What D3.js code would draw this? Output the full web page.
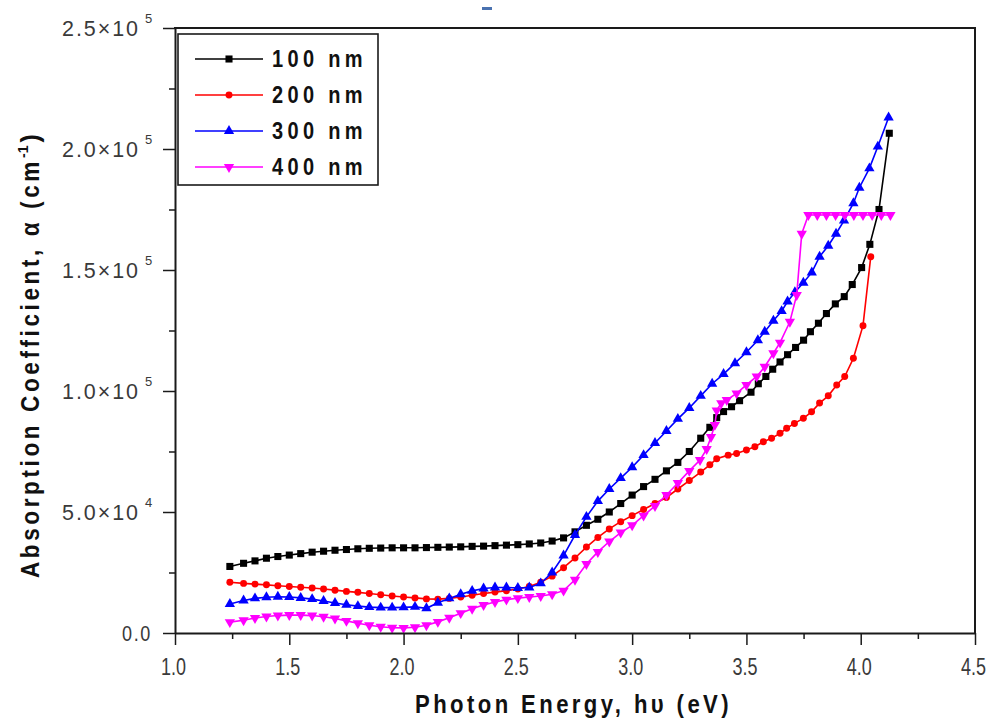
<!DOCTYPE html>
<html><head><meta charset="utf-8">
<script src="https://cdn.jsdelivr.net/npm/d3@7/dist/d3.min.js"></script>
<style>body{margin:0;background:#fff}svg{display:block}</style>
</head><body>
<svg id="chart" width="992" height="721"></svg>
<script>
// ---- data (alpha in units of 10^3 cm^-1, photon energy in eV) ----
const lowE = [1.24,1.30,1.35,1.40,1.45,1.50,1.55,1.60,1.65,1.70,1.75,1.80,1.85,1.90,1.95,2.00,2.05,2.10,2.15,2.20,2.25,2.30,2.35,2.40,2.45,2.50,2.55,2.60,2.65,2.70,2.75,2.80,2.85,2.90,2.95,3.00,3.05,3.10,3.15,3.20,3.25];

const e100 = [3.30,3.34,3.37,3.40,3.435,3.47,3.52,3.552,3.585,3.615,3.647,3.68,3.715,3.75,3.78,3.815,3.85,3.889,3.928,3.963,4.004,4.04,4.08,4.125];
const a100Low = [27.5,28.8,29.8,30.9,31.6,32.2,32.8,33.4,33.8,34.2,34.5,34.8,35.0,35.1,35.2,35.2,35.2,35.3,35.4,35.5,35.6,35.8,35.9,36.1,36.3,36.5,36.8,37.2,38.0,39.3,41.8,44.5,47.0,50.0,53.5,57.0,60.5,63.5,67.0,70.5,75.0];
const a100High = [80.5,85,89,91.5,93.5,96,99.5,103,106,109,112,115,118,121,124.5,128,132,136,139,144,151,160.6,175,206.5];

const e200 = [3.30,3.34,3.37,3.42,3.457,3.50,3.537,3.574,3.61,3.647,3.676,3.71,3.749,3.785,3.82,3.858,3.895,3.93,3.968,4.01,4.044];
const a200Low = [21.0,20.5,20.2,19.9,19.5,19.2,18.9,18.6,18.2,17.7,17.2,16.8,16.3,15.8,15.3,14.9,14.5,14.1,14.0,14.3,14.9,15.6,16.3,16.9,17.5,18.2,19.2,21.0,23.5,27.0,31.0,35.5,39.5,43.0,46.0,48.5,51.0,53.5,56.0,59.5,63.0];
const a200High = [66.5,69.5,72.0,73.5,74.2,75.6,77,79,80.5,82.5,84.6,86.6,88.7,91.4,95,98,102.5,106,113.5,127,155.5];

const e300 = [3.30,3.35,3.40,3.45,3.50,3.55,3.58,3.618,3.654,3.68,3.712,3.749,3.786,3.82,3.858,3.892,3.927,3.968,3.994,4.038,4.075,4.122];
const a300Low = [12.0,13.4,14.3,14.8,15.0,14.9,14.5,14.0,13.2,12.4,11.7,11.1,10.7,10.5,10.5,10.6,10.8,10.2,12.5,14.3,16.0,17.4,18.4,18.8,18.8,18.6,18.8,20.5,25.0,32.0,40.5,48.0,54.5,59.5,64.0,68.5,73.5,78.5,83.5,88.5,93.0];
const a300High = [98.0,103,107,111.5,116,121,124.5,129,133,137,140.8,144.7,149,155.5,160,165,170.4,177.6,184,192,201,213];

const e400 = [3.297,3.326,3.345,3.362,3.37,3.39,3.414,3.457,3.50,3.545,3.58,3.618,3.647,3.69,3.72,3.742,3.771,3.81,3.85,3.89,3.93,3.97,4.01,4.05,4.09,4.13];
const a400Low = [4.5,5.3,6.2,6.8,7.2,7.4,7.4,7.2,6.7,6.0,5.0,4.0,3.2,2.6,2.2,2.1,2.4,3.2,4.6,6.3,8.2,10.0,11.6,12.8,13.8,14.4,14.9,15.3,16.0,17.5,22.0,28.5,33.5,37.8,41.5,44.5,48.5,52.5,57.0,62.0,67.0];
const a400High = [71.5,76.0,81.0,86.0,92.0,95.0,96.3,99,102.5,106,110,115.6,120,128.6,139.7,165,172.7,172.7,172.7,172.7,172.7,172.7,172.7,172.7,172.7,172.7];

const seriesNames = ["100 nm","200 nm","300 nm","400 nm"];
const seriesColors = ["#000000","#ff0000","#0000ff","#ff00ff"];
const xMajorTicks = [1.0,1.5,2.0,2.5,3.0,3.5,4.0,4.5];
const xMinorTicks = [1.25,1.75,2.25,2.75,3.25,3.75,4.25];
const yMajorTicks = [0,50,100,150,200,250];
const yMinorTicks = [25,75,125,175,225];
const yTickMant = ["0.0","5.0","1.0","1.5","2.0","2.5"];
const yTickExp = ["","4","5","5","5","5"];

// ---- build ----
const svg = d3.select("#chart");
const x = d3.scaleLinear().domain([1,4.5]).range([175,975]);
const y = d3.scaleLinear().domain([0,250]).range([633,28]);
const FONT = "'Liberation Sans',Arial,sans-serif";
const AX = "#1a1a1a";

const series = [
  {e: lowE.concat(e100), a: a100Low.concat(a100High), sym: d3.symbolSquare, size: 50},
  {e: lowE.concat(e200), a: a200Low.concat(a200High), sym: d3.symbolCircle, size: 38},
  {e: lowE.concat(e300), a: a300Low.concat(a300High), sym: d3.symbolTriangle, size: 46},
  {e: lowE.concat(e400), a: a400Low.concat(a400High), sym: d3.symbolTriangle, size: 46, flip: true}
].map((s,i)=>({...s, name: seriesNames[i], color: seriesColors[i],
  pts: s.e.map((v,j)=>({e:v, a:s.a[j]}))}));

// small dash at the top of the original figure
svg.append("rect").attr("x",482).attr("y",7).attr("width",10).attr("height",3).attr("fill","#4a72b0");

// series lines + markers
const line = d3.line().x(d=>x(d.e)).y(d=>y(d.a));
const g = svg.append("g");
series.forEach(s=>{
  g.append("path").datum(s.pts).attr("d",line).attr("fill","none")
    .attr("stroke",s.color).attr("stroke-width",1.6);
  g.selectAll(null).data(s.pts).enter().append("path")
    .attr("d",d3.symbol().type(s.sym).size(s.size))
    .attr("transform",d=>`translate(${x(d.e)},${y(d.a)})${s.flip?" rotate(180)":""}`)
    .attr("fill",s.color);
});

// frame top/right
svg.append("line").attr("x1",174).attr("x2",976).attr("y1",28).attr("y2",28).attr("stroke",AX).attr("stroke-width",2.2);
svg.append("line").attr("x1",975).attr("x2",975).attr("y1",28).attr("y2",633).attr("stroke",AX).attr("stroke-width",2);

// x axis
const gx = svg.append("g").attr("transform","translate(0,633)");
gx.call(d3.axisBottom(x).tickValues(xMajorTicks).tickSize(12).tickSizeOuter(0).tickFormat(d3.format(".1f")));
const gxm = svg.append("g").attr("transform","translate(0,633)");
gxm.call(d3.axisBottom(x).tickValues(xMinorTicks).tickSize(6).tickSizeOuter(0).tickFormat(""));
gxm.select(".domain").remove();
gx.select(".domain").attr("stroke",AX).attr("stroke-width",2);
gx.selectAll(".tick line").attr("stroke",AX).attr("stroke-width",1.5);
gxm.selectAll(".tick line").attr("stroke",AX).attr("stroke-width",1.5);
gx.selectAll(".tick text").attr("font-family",FONT).attr("font-size",23).attr("fill","#3a3a3a")
  .attr("y",42).attr("dy",0).attr("x",-2).attr("textLength",25).attr("lengthAdjust","spacingAndGlyphs");

// y axis
const gy = svg.append("g").attr("transform","translate(175,0)");
gy.call(d3.axisLeft(y).tickValues(yMajorTicks).tickSize(12).tickSizeOuter(0).tickFormat(""));
const gym = svg.append("g").attr("transform","translate(175,0)");
gym.call(d3.axisLeft(y).tickValues(yMinorTicks).tickSize(6).tickSizeOuter(0).tickFormat(""));
gym.select(".domain").remove();
gy.select(".domain").attr("stroke",AX).attr("stroke-width",2);
gy.selectAll(".tick line").attr("stroke",AX).attr("stroke-width",1.5);
gym.selectAll(".tick line").attr("stroke",AX).attr("stroke-width",1.5);
gy.selectAll(".tick").each(function(d,i){
  const t = d3.select(this).select("text").attr("y",7).attr("dy",0)
    .attr("font-family",FONT).attr("font-size",22).attr("fill","#3a3a3a").attr("text-anchor","start").text(null);
  if (yTickExp[i]) {
    t.attr("x",-113);
    t.append("tspan").attr("letter-spacing",2).attr("textLength",78).attr("lengthAdjust","spacingAndGlyphs").text(yTickMant[i] + "\u00d710");
    t.append("tspan").attr("x",-30).attr("dy",-13).attr("font-size",13).text(yTickExp[i]);
  } else {
    t.attr("x",-53).append("tspan").attr("letter-spacing",2).attr("textLength",30).attr("lengthAdjust","spacingAndGlyphs").text(yTickMant[i]);
  }
});

// axis titles
svg.append("text").attr("x",415).attr("y",713)
  .attr("font-family",FONT).attr("font-weight","bold").attr("font-size",26).attr("letter-spacing",4)
  .attr("textLength",317).attr("lengthAdjust","spacingAndGlyphs")
  .attr("fill","#111").text("Photon Energy, h\u03c5 (eV)");
const yt = svg.append("text").attr("transform","translate(39,578) rotate(-90)")
  .attr("font-family",FONT).attr("font-weight","bold").attr("font-size",25).attr("fill","#111");
yt.append("tspan").attr("letter-spacing",4).attr("textLength",420).attr("lengthAdjust","spacingAndGlyphs").text("Absorption Coefficient, \u03b1 (cm");
yt.append("tspan").attr("dy",-11).attr("font-size",14).text("-1");
yt.append("tspan").attr("dy",11).attr("dx",3).text(")");

// legend
const lg = svg.append("g");
lg.append("rect").attr("x",178).attr("y",34).attr("width",200).attr("height",151)
  .attr("fill","#fff").attr("stroke",AX).attr("stroke-width",1.6);
const rowsY = [59,95,131,167];
series.forEach((s,i)=>{
  lg.append("line").attr("x1",195).attr("x2",263).attr("y1",rowsY[i]).attr("y2",rowsY[i])
    .attr("stroke",s.color).attr("stroke-width",1.6);
  lg.append("path").attr("d",d3.symbol().type(s.sym).size(s.size))
    .attr("transform",`translate(229,${rowsY[i]})${s.flip?" rotate(180)":""}`).attr("fill",s.color);
  lg.append("text").attr("x",272).attr("y",rowsY[i]+8)
    .attr("font-family",FONT).attr("font-weight","bold").attr("font-size",23).attr("letter-spacing",5)
    .attr("textLength",95).attr("lengthAdjust","spacingAndGlyphs")
    .attr("fill","#111").text(s.name);
});
</script>
</body></html>
